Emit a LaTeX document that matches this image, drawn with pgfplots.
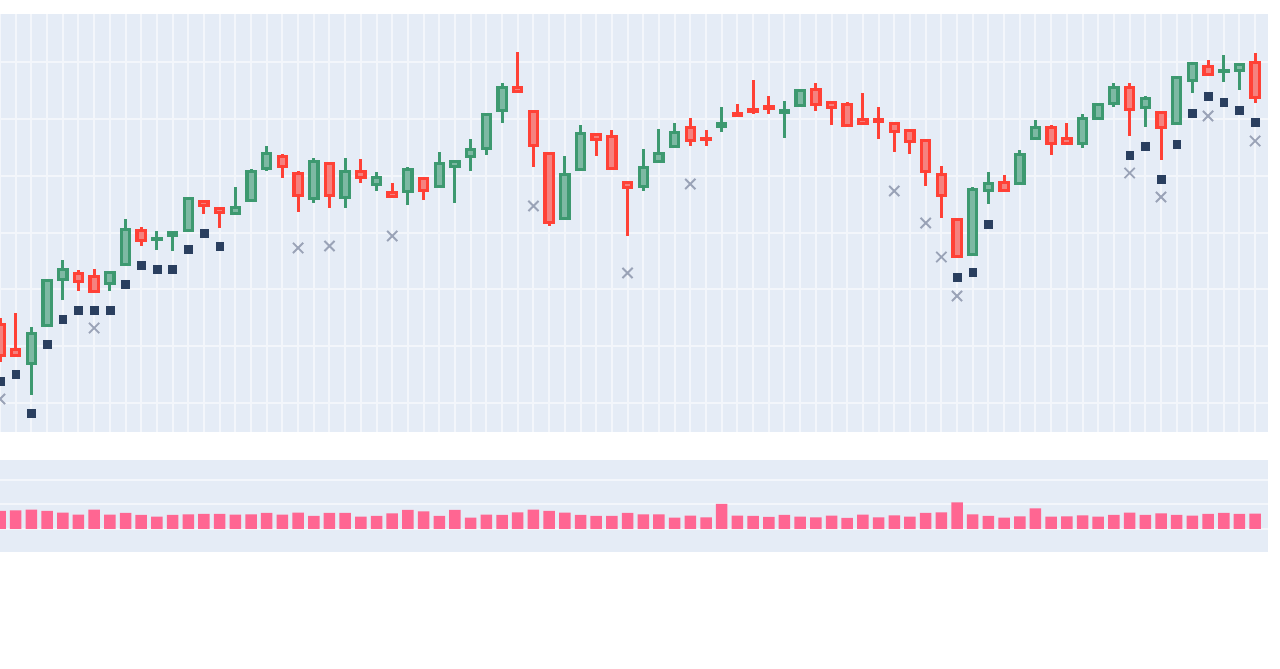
\documentclass[border=0pt]{standalone}
\usepackage{pgfplots}
\usepackage{pgfplotstable}
\pgfplotsset{compat=1.18}
\definecolor{panel}{HTML}{E5ECF6}
\definecolor{gridc}{HTML}{F3F6FB}
\definecolor{upc}{HTML}{3D9970}
\definecolor{downc}{HTML}{FF4136}
\colorlet{upf}{upc!62!panel}
\colorlet{downf}{downc!62!panel}
\definecolor{squarec}{HTML}{2A3F5F}
\definecolor{crossc}{HTML}{9AA3B7}
\definecolor{volc}{HTML}{FF6692}
\pgfplotstableread{
x low bot top high
0 70 75 109 114
1 75 75 84 119
5 141 149 160 162
6 139 139 157 163
9 186 190 203 205
13 218 225 232 232
14 204 218 225 225
18 254 264 277 278
19 220 235 260 261
21 224 235 270 270
23 249 253 262 273
25 234 234 241 249
27 232 240 255 255
33 339 339 346 380
34 265 285 322 322
35 206 208 280 280
38 276 291 299 299
39 262 262 297 302
40 196 243 251 251
44 286 290 306 314
45 286 291 295 302
47 315 315 320 328
48 318 319 324 352
49 318 322 327 336
52 321 326 344 349
53 307 323 331 331
54 305 305 329 330
55 307 307 314 339
56 293 309 314 325
57 280 299 310 310
58 278 289 303 303
59 246 259 293 293
60 214 235 259 266
61 174 174 214 214
64 240 240 251 257
67 277 287 306 307
68 287 287 295 309
72 296 321 346 349
74 272 303 321 321
77 356 356 367 372
80 329 333 371 379
}\downt
\pgfplotstableread{
x low bot top high
2 37 67 100 105
3 105 105 153 153
4 132 151 164 172
7 141 147 161 161
8 166 166 204 213
10 182 191 195 201
11 181 195 201 201
12 200 200 235 235
15 217 217 226 245
16 230 230 262 263
17 261 262 280 286
20 229 232 272 274
22 224 233 262 274
24 241 246 256 260
26 227 239 264 265
28 244 244 270 280
29 229 264 272 272
30 261 274 284 293
31 277 282 319 319
32 309 320 346 349
36 212 212 259 276
37 261 261 300 307
41 241 244 266 283
42 269 269 280 303
43 284 284 301 309
46 300 304 310 325
50 294 318 323 331
51 325 325 343 343
62 176 176 244 245
63 228 240 250 260
65 247 247 279 282
66 292 292 306 312
69 284 287 315 318
70 312 312 329 329
71 325 327 346 349
73 305 323 335 336
75 307 307 356 356
76 339 350 370 370
78 350 359 363 377
79 342 360 369 369
}\upt
\pgfplotsset{
 bare/.style={
  scale only axis, anchor=south west,
  axis line style={draw=none},
  axis background/.style={fill=panel},
  tick style={draw=none},
  xticklabels={}, yticklabels={},
  grid=major,
  major grid style={gridc, line width=2pt},
  xmin=0, xmax=80.82,
 },
 wick/.style={draw=none, mark=none, forget plot,
  error bars/.cd, y dir=plus, y explicit, error mark=none,
  error bar style={#1, line width=3pt}},
 bodyo/.style={draw=none, mark=none, forget plot,
  error bars/.cd, y dir=plus, y explicit, error mark=none,
  error bar style={#1, line width=11.5pt}},
 bodyi/.style={draw=none, mark=none, forget plot,
  error bars/.cd, y dir=plus, y explicit, error mark=none,
  error bar style={#1, line width=5pt}},
}
\begin{document}
\begin{tikzpicture}[x=1pt,y=1pt]
\path[use as bounding box] (0,0) rectangle (1280,669);
\begin{axis}[bare, at={(0pt,237pt)}, width=1268pt, height=418pt,
  ymin=0, ymax=418,
  xtick={0,1,...,80},
  ytick={29,86,143,199,256,313,370}]
\addplot[wick=upc] table[x=x,y=low,y error plus expr=\thisrow{high}-\thisrow{low}] {\upt};
\addplot[wick=downc] table[x=x,y=low,y error plus expr=\thisrow{high}-\thisrow{low}] {\downt};
\addplot[bodyo=upc] table[x=x,y=bot,y error plus expr=\thisrow{top}-\thisrow{bot}] {\upt};
\addplot[bodyo=downc] table[x=x,y=bot,y error plus expr=\thisrow{top}-\thisrow{bot}] {\downt};
\addplot[bodyi=upf] table[x=x,y expr=\thisrow{bot}+3,y error plus expr={max(0,\thisrow{top}-\thisrow{bot}-6)}] {\upt};
\addplot[bodyi=downf] table[x=x,y expr=\thisrow{bot}+3,y error plus expr={max(0,\thisrow{top}-\thisrow{bot}-6)}] {\downt};
\addplot[only marks, mark=square*, mark size=3.9pt, color=squarec] coordinates {
(0,51)(1,58)(2,19)(3,88)(4,113)(5,122)(6,122)(7,122)(8,148)(9,167)(10,163)(11,163)(12,183)(13,199)(14,186)
(61,155)(62,160)(63,208)(72,277)(73,286)(74,253)(75,288)(76,319)(77,336)(78,330)(79,322)(80,310)};
\addplot[only marks, mark=x, mark size=7.2pt, color=crossc, mark options={line width=1.9pt}] coordinates {
(0,33)(6,104)(19,184)(21,186)(25,196)(34,226)(40,159)(44,248)(57,241)(59,209)(60,175)(61,136)(72,259)(74,235)(77,316)(80,291)};
\end{axis}
\begin{axis}[bare, at={(0pt,117pt)}, width=1268pt, height=92pt,
  ymin=-23, ymax=69,
  xtick=\empty,
  ytick={0,24.5,49}]
\addplot[ybar, bar width=11.5pt, bar shift=0pt, fill=volc, draw=none] coordinates {
(0,18)(1,18.7)(2,19.3)(3,18)(4,16.3)(5,14.3)(6,19.3)(7,14.3)(8,16)(9,14)
(10,12.3)(11,14)(12,14.7)(13,15)(14,15)(15,14.3)(16,14.7)(17,16)(18,14.3)(19,16.3)
(20,13)(21,16)(22,16)(23,12.3)(24,13)(25,15.7)(26,19)(27,17.7)(28,13)(29,19)
(30,11.3)(31,14.3)(32,14)(33,16.7)(34,19.3)(35,18)(36,16.3)(37,14)(38,13)(39,13)
(40,16)(41,14.7)(42,14.7)(43,11.3)(44,13.3)(45,11.7)(46,25)(47,13.3)(48,13)(49,12)
(50,14)(51,12.3)(52,11.7)(53,13.3)(54,11)(55,14.3)(56,11.7)(57,13.7)(58,12.3)(59,16)
(60,16.7)(61,26.7)(62,14.7)(63,13)(64,11.3)(65,12.7)(66,20.7)(67,12.3)(68,12.7)(69,13.7)
(70,12.3)(71,14)(72,16.3)(73,14)(74,15.7)(75,14)(76,13.3)(77,15)(78,16)(79,15)(80,15.3)};
\end{axis}
\end{tikzpicture}
\end{document}
